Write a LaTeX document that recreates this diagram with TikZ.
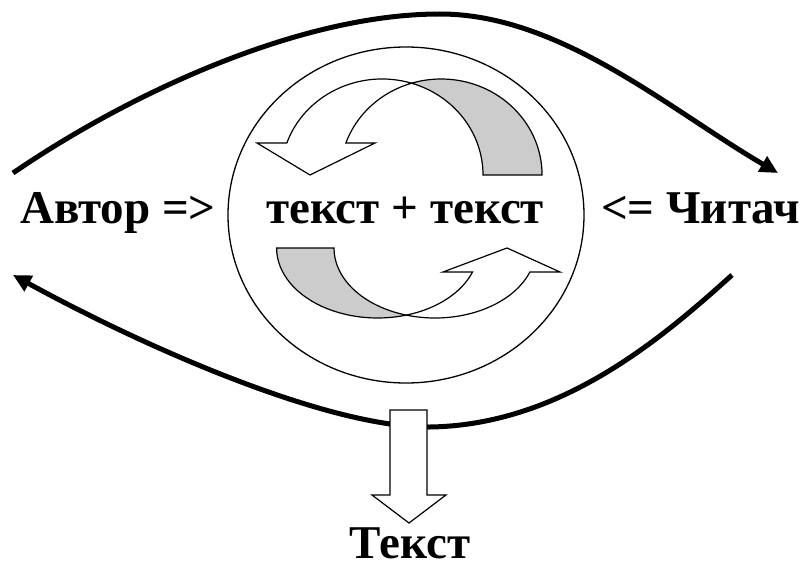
\documentclass[tikz,border=0pt]{standalone}
\usepackage{fontspec}
\setmainfont{Liberation Serif}
\usetikzlibrary{arrows.meta,positioning,shapes.geometric}
\definecolor{shade}{RGB}{204,204,204}

\begin{document}
\begin{tikzpicture}[
    x=1pt, y=-1pt,
    word/.style={font=\fontsize{47}{50}\selectfont\bfseries, inner sep=0pt},
    flow/.style={line width=5pt, -{Triangle[length=18pt,width=17pt]}},
    band/.style={draw, line width=1.2pt, fill=white},
    back/.style={draw, line width=1.2pt, fill=shade},
    ring/.style={ellipse, draw, line width=1.3pt, minimum width=356pt, minimum height=336pt}
]
\useasboundingbox (0,0) rectangle (803,567);

% Cycle
\node[ring] (cycle) at (406,215) {};

% Texts
\node[word, anchor=base west] (author) at (20,223) {Автор =>};
\node[word, anchor=base east] (reader) at (800,223) {<= Читач};
\node[word, anchor=base] (merge) at (405,223) {текст + текст};
\node[word, anchor=base] (result) at (410,558) {Текст};

% Upper turning arrow
\draw[band] (286.8,143) arc[start angle=199.47, end angle=287, x radius=101, y radius=96]
    arc[start angle=253, end angle=199.47, x radius=101, y radius=96]
    -- (375,143) -- (310,175) -- (257,143) -- cycle;
\draw[back] (483,175) arc[start angle=0, end angle=-73, x radius=101, y radius=96]
    arc[start angle=253, end angle=360, x radius=101, y radius=96] -- cycle;

% Lower turning arrow
\draw[back] (276.6,248) arc[start angle=180, end angle=73.5, x radius=101, y radius=70]
    arc[start angle=106.5, end angle=180, x radius=101, y radius=70] -- cycle;
\draw[band] (529.9,272) arc[start angle=20.05, end angle=106.5, x radius=101, y radius=70]
    arc[start angle=73.5, end angle=20.05, x radius=101, y radius=70]
    -- (443,272) -- (507,248) -- (560,272) -- cycle;

% Author to reader and back
\coordinate (topStart) at (13,173);
\coordinate (topPeak) at (440,14);
\coordinate (topEnd) at (778,173);
\coordinate (lowStart) at (732,275);
\coordinate (lowDip) at (430,427);
\coordinate (lowEnd) at (13,275);
\draw[flow] (topStart) .. controls (130,93) and (300,14) .. (topPeak)
    .. controls (560,14) and (670,110) .. (topEnd);
\draw[flow] (lowStart) .. controls (660,340) and (560,425) .. (lowDip)
    .. controls (330,428) and (150,350) .. (lowEnd);

% Output arrow
\draw[band] (390,410) -- (427,410) -- (427,495) -- (446,495) -- (409,523)
    -- (372,495) -- (390,495) -- cycle;

\end{tikzpicture}
\end{document}
